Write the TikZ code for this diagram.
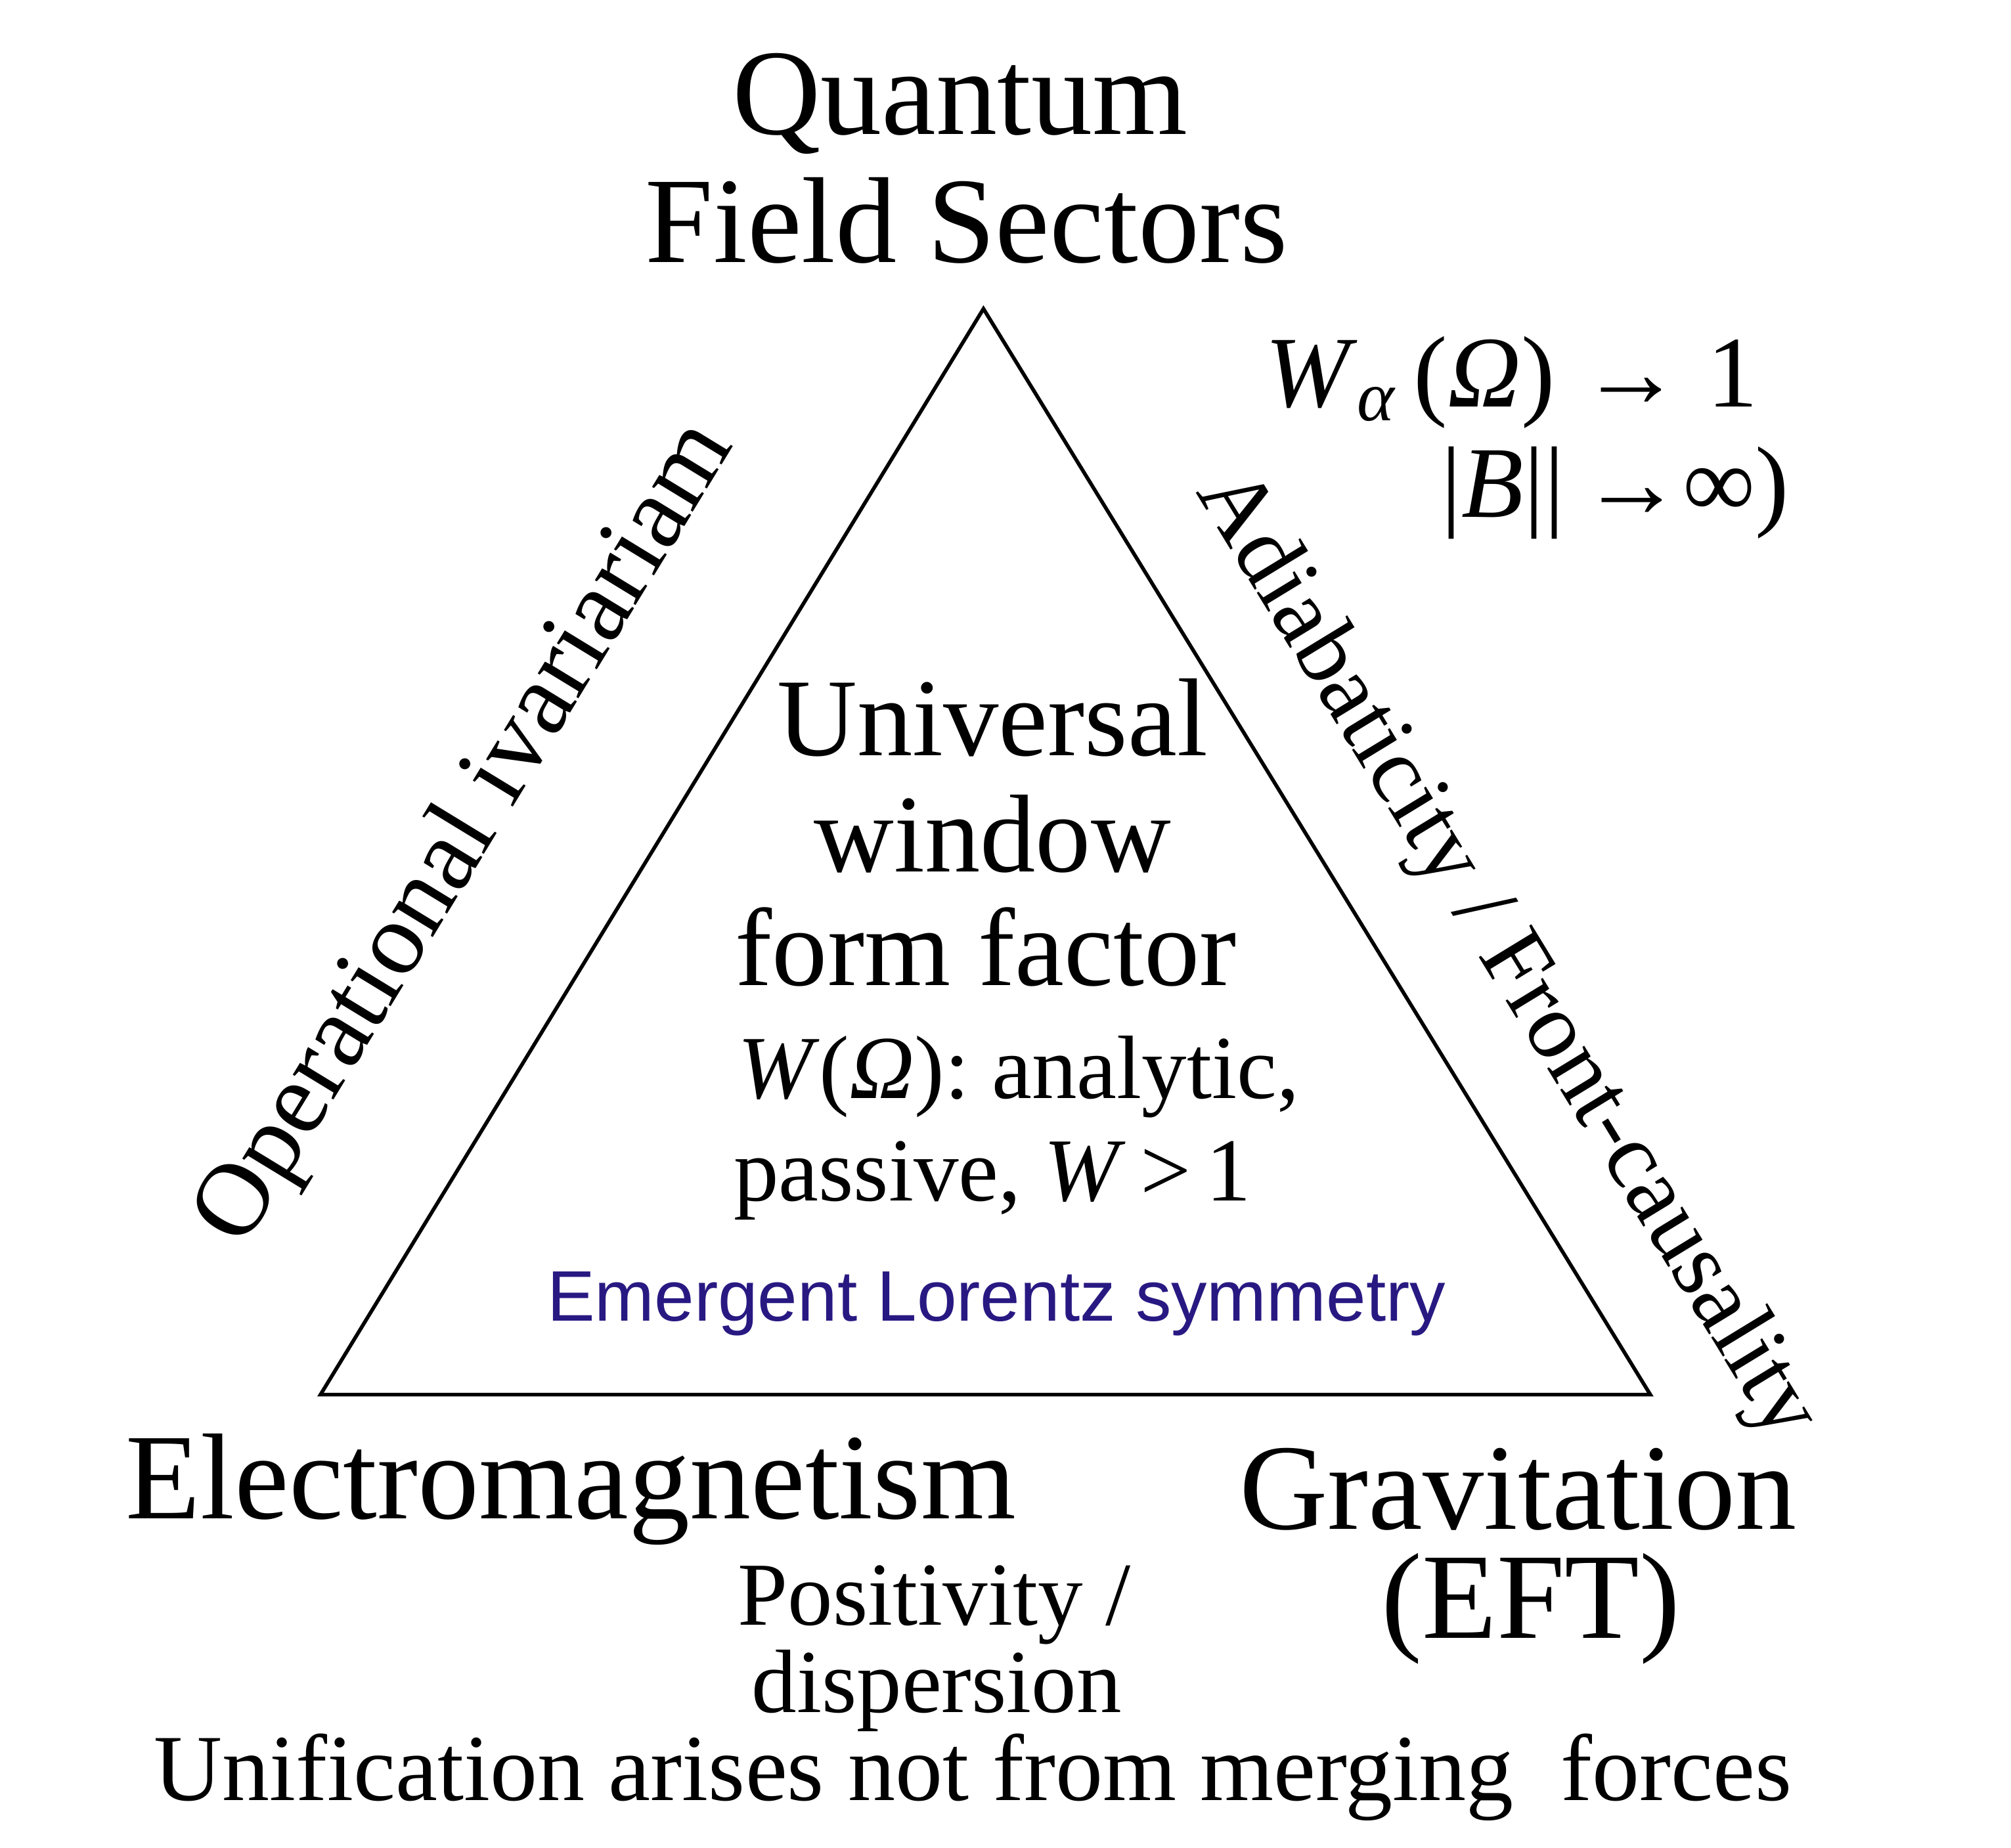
\documentclass[tikz,border=0pt]{standalone}
\usepackage{fontspec}
\setmainfont{Liberation Serif}
\newfontfamily\sansf{Liberation Sans}
\begin{document}
\begin{tikzpicture}[x=0.01976cm,y=-0.01976cm,
  lab/.style={inner sep=0pt,align=center},
  big/.style={lab,font=\fontsize{53}{60}\selectfont},
  mid/.style={lab,font=\fontsize{48}{54}\selectfont},
  sml/.style={lab,font=\fontsize{39}{44}\selectfont}]
\useasboundingbox (0,0) rectangle (1550,1424);
\coordinate (apex) at (758,238);
\coordinate (bl) at (247,1075);
\coordinate (br) at (1272,1075);
\draw[line width=1.6pt,line join=miter] (apex) -- (bl) -- (br) -- cycle;
\node[big] (q) at (740,80) {Quantum};
\node[big] (f) at (745,170) {Field Sectors};
\node[mid] (u1) at (765,553) {Universal};
\node[mid] (u2) at (765,643) {window};
\node[mid] (u3) at (760,730) {form factor};
\node[sml] (w1) at (785,830) {\textit{W}(\textit{Ω}): analytic,};
\node[sml] (w2) at (765,910) {passive, \textit{W}\,>\,1};
\node[lab,font=\sansf\fontsize{31}{36}\selectfont,text={rgb,255:red,40;green,25;blue,130}] (el) at (768,1005) {Emergent Lorentz symmetry};
\node[big] (em) at (440,1148) {Electromagnetism};
\node[big] (g1) at (1170,1148) {Gravitation};
\node[big] (g2) at (1180,1240) {(EFT)};
\node[sml] (p1) at (720,1237) {Positivity /};
\node[sml] (p2) at (722,1303) {dispersion};
\node[lab,font=\fontsize{41}{48}\selectfont] (un) at (750,1370) {Unification arises not from merging\ \ forces};
\node[lab,font=\fontsize{44}{50}\selectfont] (wa) at (1165,295) {\textit{W}\textsubscript{\textit{α}}\,(\textit{Ω}) → 1};
\node[lab,font=\fontsize{44}{50}\selectfont] (bb) at (1245,380) {|\textit{B}||\,→∞)};
\node[lab,font=\fontsize{45}{50}\selectfont,rotate=58.6] (op) at (360,643) {Operational ivariariam};
\node[lab,font=\fontsize{41}{46}\selectfont,rotate=-58.6] (ad) at (1160,737) {Adiabaticity / Front-causality};
\end{tikzpicture}
\end{document}
